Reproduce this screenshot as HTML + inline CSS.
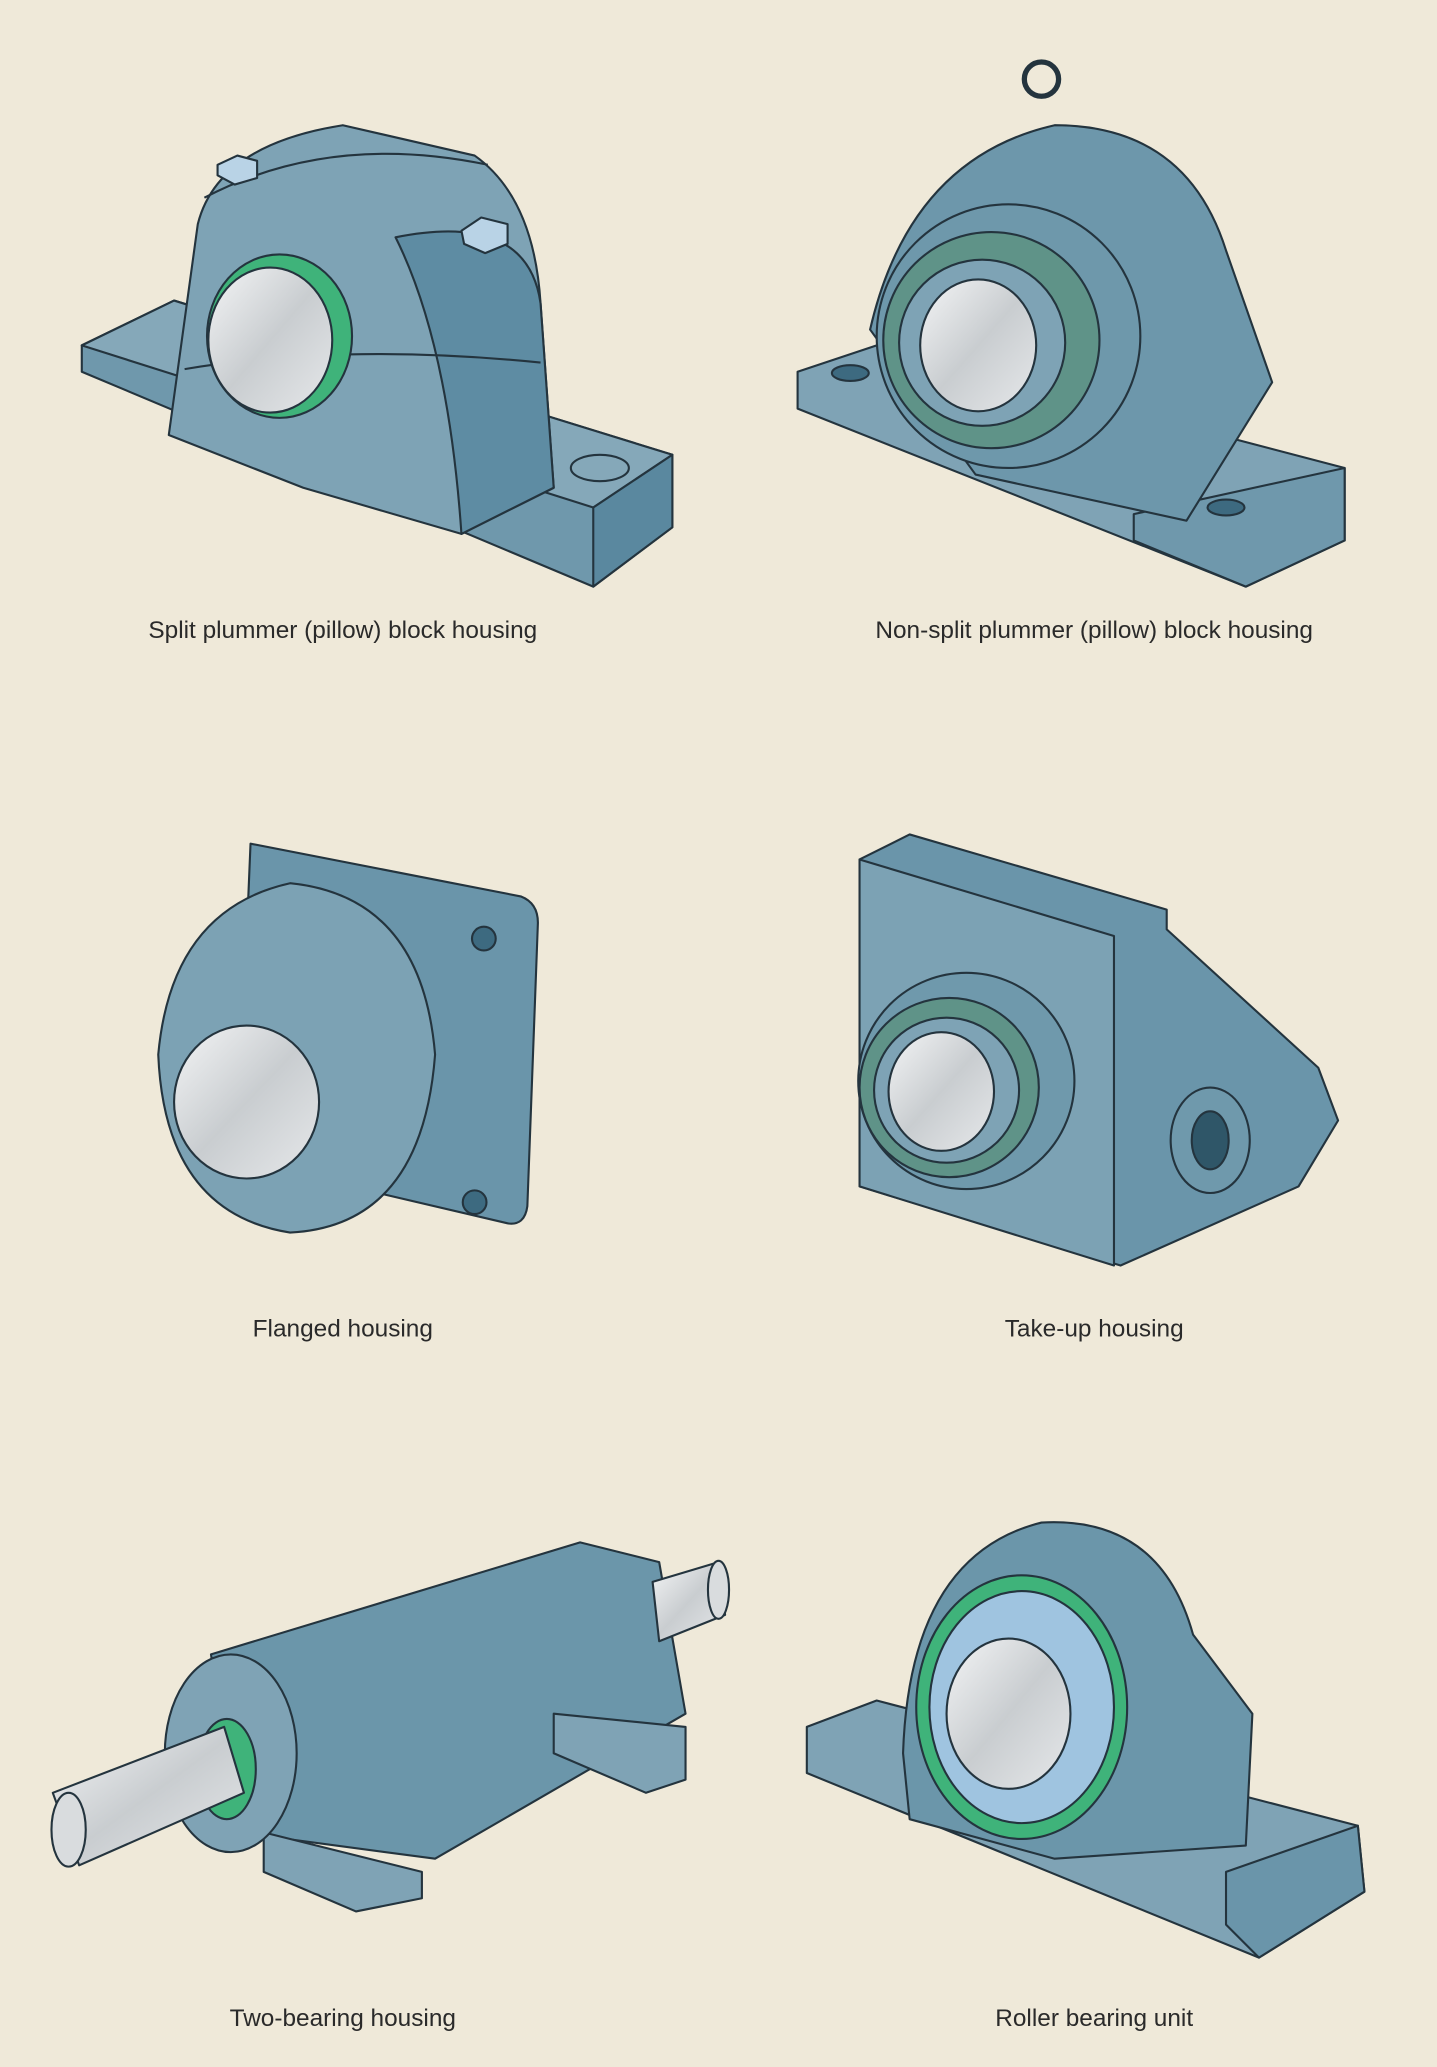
<!DOCTYPE html>
<html><head><meta charset="utf-8"><style>
html,body{margin:0;padding:0;background:#efe9d9;}
svg{display:block}
text{font-family:"Liberation Sans",sans-serif;font-size:18.5px;fill:#2a2a2a;}
</style></head><body>
<svg width="1437" height="2067" viewBox="0 0 1090 1568" xmlns="http://www.w3.org/2000/svg">
<defs>
<linearGradient id="met" x1="0" y1="0" x2="1" y2="1"><stop offset="0" stop-color="#f4f5f6"/><stop offset="0.5" stop-color="#c9cdd0"/><stop offset="1" stop-color="#e6e8ea"/></linearGradient>
</defs>
<rect width="1090" height="1568" fill="#efe9d9"/>
<g stroke="#24343e" stroke-width="1.6" stroke-linejoin="round">
<!-- 1 split plummer -->
<polygon points="62,262 132,228 510,345 510,400 450,445 62,282" fill="#6f98ac"/>
<polygon points="62,262 132,228 510,345 450,385" fill="#85a8b9"/>
<polygon points="450,385 510,345 510,400 450,445" fill="#5a889f"/>
<path d="M128,330 L150,170 Q165,110 260,95 L360,118 Q405,150 410,230 L420,370 L350,405 L230,370 Z" fill="#7ea3b5"/>
<path d="M300,180 Q400,160 410,230 L420,370 L350,405 Q340,260 300,180Z" fill="#5e8ca3"/>
<path d="M155,150 Q250,100 370,125" fill="none"/>
<path d="M140,280 Q260,260 410,275" fill="none"/>
<ellipse cx="212" cy="255" rx="55" ry="62" fill="#3fb37a"/>
<ellipse cx="205" cy="258" rx="47" ry="55" fill="url(#met)"/>
<polygon points="350,175 365,165 385,170 385,185 368,192 352,185" fill="#b9d3e6"/>
<polygon points="165,125 180,118 195,122 195,135 178,140 165,133" fill="#b9d3e6"/>
<ellipse cx="455" cy="355" rx="22" ry="10" fill="#85a8b9"/>
<!-- 2 non-split -->
<polygon points="605,282 665,262 1020,355 1020,410 945,445 605,310" fill="#7fa3b5"/>
<polygon points="860,390 1020,355 1020,410 945,445 860,410" fill="#6f98ac"/>
<path d="M660,250 Q690,120 800,95 Q900,95 930,190 L965,290 L900,395 L740,360 Z" fill="#6d97ab"/>
<circle cx="790" cy="60" r="13" fill="none" stroke-width="4"/>
<circle cx="765" cy="255" r="100" fill="#6e98ab"/>
<circle cx="752" cy="258" r="82" fill="#5f9388"/>
<circle cx="745" cy="260" r="63" fill="#7ea3b5"/>
<ellipse cx="742" cy="262" rx="44" ry="50" fill="url(#met)"/>
<ellipse cx="645" cy="283" rx="14" ry="6" fill="#3d6a80"/>
<ellipse cx="930" cy="385" rx="14" ry="6" fill="#3d6a80"/>
<!-- 3 flanged -->
<path d="M190,640 L395,680 Q408,685 408,700 L400,915 Q398,930 385,928 L180,880 Z" fill="#6a95aa"/>
<path d="M120,800 Q130,690 220,670 Q320,680 330,800 Q320,930 220,935 Q125,920 120,800Z" fill="#7ca2b4"/>
<ellipse cx="187" cy="836" rx="55" ry="58" fill="url(#met)"/>
<circle cx="367" cy="712" r="9" fill="#3d6a80"/>
<circle cx="360" cy="912" r="9" fill="#3d6a80"/>
<!-- 4 take-up -->
<polygon points="652,652 690,633 885,690 885,705 1000,810 1015,850 985,900 850,960 652,900" fill="#6a95aa"/>
<polygon points="652,652 845,710 845,960 652,900" fill="#7ca2b4"/>
<circle cx="733" cy="820" r="82" fill="#6f99ac"/>
<circle cx="720" cy="825" r="68" fill="#5f9388"/>
<circle cx="718" cy="827" r="55" fill="#7ea3b5"/>
<ellipse cx="714" cy="828" rx="40" ry="45" fill="url(#met)"/>
<ellipse cx="918" cy="865" rx="30" ry="40" fill="#6f99ac"/>
<ellipse cx="918" cy="865" rx="14" ry="22" fill="#2f5668"/>
<!-- 5 two-bearing -->
<polygon points="160,1255 440,1170 500,1185 520,1300 330,1410 180,1390" fill="#6b96aa"/>
<polygon points="420,1300 520,1310 520,1350 490,1360 420,1330" fill="#7fa3b5"/>
<polygon points="200,1390 320,1420 320,1440 270,1450 200,1420" fill="#7fa3b5"/>
<ellipse cx="175" cy="1330" rx="50" ry="75" fill="#7fa3b5"/>
<ellipse cx="172" cy="1342" rx="22" ry="38" fill="#3fb37a"/>
<polygon points="40,1360 170,1310 185,1360 60,1415" fill="url(#met)"/>
<ellipse cx="52" cy="1388" rx="13" ry="28" fill="#d9dcde"/>
<polygon points="495,1200 545,1185 550,1225 500,1245" fill="url(#met)"/>
<ellipse cx="545" cy="1206" rx="8" ry="22" fill="#d9dcde"/>
<!-- 6 roller unit -->
<polygon points="612,1310 665,1290 1030,1385 1035,1435 955,1485 612,1345" fill="#7fa3b5"/>
<polygon points="930,1420 1030,1385 1035,1435 955,1485 930,1460" fill="#6a95aa"/>
<path d="M685,1330 Q690,1180 790,1155 Q880,1150 905,1240 L950,1300 L945,1400 L800,1410 L690,1380Z" fill="#6b96aa"/>
<ellipse cx="775" cy="1295" rx="80" ry="100" fill="#3fb37a"/>
<ellipse cx="775" cy="1295" rx="70" ry="88" fill="#9fc4e0"/>
<ellipse cx="765" cy="1300" rx="47" ry="57" fill="url(#met)"/>
</g>
<g text-anchor="middle">
<text x="260" y="484">Split plummer (pillow) block housing</text>
<text x="830" y="484">Non-split plummer (pillow) block housing</text>
<text x="260" y="1014">Flanged housing</text>
<text x="830" y="1014">Take-up housing</text>
<text x="260" y="1537">Two-bearing housing</text>
<text x="830" y="1537">Roller bearing unit</text>
</g>
</svg>
</body></html>
